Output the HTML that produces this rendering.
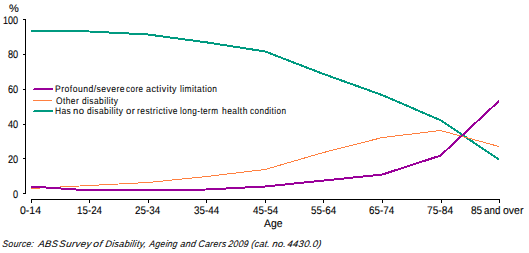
<!DOCTYPE html>
<html><head><meta charset="utf-8">
<style>
html,body{margin:0;padding:0;background:#fff;}
body{width:529px;height:253px;position:relative;overflow:hidden;font-family:"Liberation Sans",sans-serif;font-size:11px;color:#000;}
svg{position:absolute;left:0;top:0;}
.t{position:absolute;white-space:nowrap;line-height:1;transform-origin:0 0;-webkit-text-stroke:0.1px #000;text-rendering:geometricPrecision;}
</style></head><body>
<svg width="529" height="253" viewBox="0 0 529 253">
<g fill="#000" shape-rendering="crispEdges">
<rect x="25" y="19" width="1" height="175"/>
<rect x="23" y="19" width="2" height="1"/>
<rect x="23" y="54" width="2" height="1"/>
<rect x="23" y="89" width="2" height="1"/>
<rect x="23" y="124" width="2" height="1"/>
<rect x="23" y="158" width="2" height="1"/>
<rect x="23" y="193" width="2" height="1"/>
<rect x="31" y="199" width="469" height="1"/>
<rect x="31" y="199" width="1" height="4"/>
<rect x="89" y="199" width="1" height="4"/>
<rect x="148" y="199" width="1" height="4"/>
<rect x="206" y="199" width="1" height="4"/>
<rect x="265" y="199" width="1" height="4"/>
<rect x="323" y="199" width="1" height="4"/>
<rect x="382" y="199" width="1" height="4"/>
<rect x="441" y="199" width="1" height="4"/>
<rect x="499" y="199" width="1" height="4"/>
</g>
<g fill="none" stroke-linejoin="round" shape-rendering="crispEdges">
<polyline stroke="#009A80" stroke-width="2" points="31,31.2 89.5,31.5 148,34.5 206.5,42.35 265,51.45 323.5,74 382,95 440.5,120.2 499,159.5"/>
<polyline stroke="#FF8040" stroke-width="1" points="31,188.5 89.5,185.5 148,182.5 206.5,176.5 265,169.5 323.5,152.5 382,137.6 440.5,130.5 499,146.5"/>
<polyline stroke="#990099" stroke-width="2" points="31,186.5 89.5,190.45 148,190.1 206.5,189.5 265,186.5 323.5,180.55 382,174.6 440.5,155.6 499,101"/>
<rect x="34" y="88" width="19" height="1" fill="#990099" stroke="none"/>
<rect x="33" y="89" width="20" height="1" fill="#990099" stroke="none"/>
<rect x="33" y="100" width="19" height="1" fill="#FF8040" stroke="none"/>
<rect x="34" y="110" width="19" height="1" fill="#009A80" stroke="none"/>
<rect x="33" y="111" width="20" height="1" fill="#009A80" stroke="none"/>
</g>
</svg>
<div class="t" style="left:9.000px;top:4.000px;font-size:11px;">%</div>
<div class="t" style="left:3.176px;top:16.000px;font-size:11px;transform:scaleX(0.8235);">100</div>
<div class="t" style="left:8.000px;top:50.000px;font-size:11px;transform:scaleX(0.8333);">80</div>
<div class="t" style="left:8.000px;top:85.000px;font-size:11px;transform:scaleX(0.8333);">60</div>
<div class="t" style="left:8.000px;top:120.000px;font-size:11px;transform:scaleX(0.8333);">40</div>
<div class="t" style="left:8.000px;top:155.000px;font-size:11px;transform:scaleX(0.8333);">20</div>
<div class="t" style="left:13.000px;top:190.000px;font-size:11px;transform:scaleX(0.8333);">0</div>
<div class="t" style="left:20.000px;top:206.000px;font-size:11px;transform:scaleX(0.9545);">0-14</div>
<div class="t" style="left:77.111px;top:206.000px;font-size:11px;transform:scaleX(0.8889);">15-24</div>
<div class="t" style="left:135.000px;top:206.000px;font-size:11px;transform:scaleX(0.8929);">25-34</div>
<div class="t" style="left:194.000px;top:206.000px;font-size:11px;transform:scaleX(0.8929);">35-44</div>
<div class="t" style="left:253.000px;top:206.000px;font-size:11px;transform:scaleX(0.8929);">45-54</div>
<div class="t" style="left:311.000px;top:206.000px;font-size:11px;transform:scaleX(0.8929);">55-64</div>
<div class="t" style="left:369.000px;top:206.000px;font-size:11px;transform:scaleX(0.8929);">65-74</div>
<div class="t" style="left:427.074px;top:206.000px;font-size:11px;transform:scaleX(0.9259);">75-84</div>
<div class="t" style="left:471.000px;top:206.000px;font-size:11px;transform:scaleX(0.9167);">85</div>
<div class="t" style="left:484.000px;top:206.000px;font-size:11px;transform:scaleX(0.8889);">and</div>
<div class="t" style="left:503.000px;top:206.000px;font-size:11px;transform:scaleX(0.9545);">over</div>
<div class="t" style="left:264.000px;top:219.000px;font-size:11px;transform:scaleX(0.9474);">Age</div>
<div class="t" style="left:55.105px;top:85.000px;font-size:9.5px;-webkit-text-stroke:0.05px #000;letter-spacing:0.5px;transform:scaleX(0.9081);">Profound/severe</div>
<div class="t" style="left:126.000px;top:85.000px;font-size:9.5px;-webkit-text-stroke:0.05px #000;letter-spacing:0.5px;transform:scaleX(0.8500);">core</div>
<div class="t" style="left:146.000px;top:85.000px;font-size:9.5px;-webkit-text-stroke:0.05px #000;letter-spacing:0.5px;transform:scaleX(0.9394);">activity</div>
<div class="t" style="left:180.000px;top:85.000px;font-size:9.5px;-webkit-text-stroke:0.05px #000;letter-spacing:0.5px;transform:scaleX(0.8810);">limitation</div>
<div class="t" style="left:56.000px;top:97.000px;font-size:9.5px;-webkit-text-stroke:0.05px #000;letter-spacing:0.5px;transform:scaleX(0.8846);">Other</div>
<div class="t" style="left:82.000px;top:97.000px;font-size:9.5px;-webkit-text-stroke:0.05px #000;letter-spacing:0.5px;transform:scaleX(0.8780);">disability</div>
<div class="t" style="left:55.118px;top:107.000px;font-size:9.5px;-webkit-text-stroke:0.05px #000;letter-spacing:0.5px;transform:scaleX(0.8824);">Has</div>
<div class="t" style="left:73.000px;top:107.000px;font-size:9.5px;-webkit-text-stroke:0.05px #000;letter-spacing:0.5px;">no</div>
<div class="t" style="left:87.000px;top:107.000px;font-size:9.5px;-webkit-text-stroke:0.05px #000;letter-spacing:0.5px;transform:scaleX(0.8780);">disability</div>
<div class="t" style="left:126.000px;top:107.000px;font-size:9.5px;-webkit-text-stroke:0.05px #000;letter-spacing:0.5px;">or</div>
<div class="t" style="left:137.091px;top:107.000px;font-size:9.5px;-webkit-text-stroke:0.05px #000;letter-spacing:0.5px;transform:scaleX(0.8869);">restrictive</div>
<div class="t" style="left:180.000px;top:107.000px;font-size:9.5px;-webkit-text-stroke:0.05px #000;letter-spacing:0.5px;transform:scaleX(0.8636);">long-term</div>
<div class="t" style="left:222.000px;top:107.000px;font-size:9.5px;-webkit-text-stroke:0.05px #000;letter-spacing:0.5px;transform:scaleX(0.8929);">health</div>
<div class="t" style="left:250.000px;top:107.000px;font-size:9.5px;-webkit-text-stroke:0.05px #000;letter-spacing:0.5px;transform:scaleX(0.8571);">condition</div>
<div class="t" style="left:3.000px;top:240.000px;font-size:9.5px;font-style:italic;-webkit-text-stroke:0.05px #000;letter-spacing:0.3px;transform:scaleX(0.9118) skewX(-9deg);">Source:</div>
<div class="t" style="left:39.000px;top:240.000px;font-size:9.5px;font-style:italic;-webkit-text-stroke:0.05px #000;letter-spacing:0.3px;transform:skewX(-9deg);">ABS</div>
<div class="t" style="left:60.000px;top:240.000px;font-size:9.5px;font-style:italic;-webkit-text-stroke:0.05px #000;letter-spacing:0.3px;transform:scaleX(1.0332) skewX(-9deg);">Survey</div>
<div class="t" style="left:94.100px;top:240.000px;font-size:9.5px;font-style:italic;-webkit-text-stroke:0.05px #000;letter-spacing:0.3px;transform:scaleX(1.1000) skewX(-9deg);">of</div>
<div class="t" style="left:105.952px;top:240.000px;font-size:9.5px;font-style:italic;-webkit-text-stroke:0.05px #000;letter-spacing:0.3px;transform:scaleX(0.9524) skewX(-9deg);">Disability,</div>
<div class="t" style="left:149.906px;top:240.000px;font-size:9.5px;font-style:italic;-webkit-text-stroke:0.05px #000;letter-spacing:0.3px;transform:scaleX(0.9062) skewX(-9deg);">Ageing</div>
<div class="t" style="left:180.944px;top:240.000px;font-size:9.5px;font-style:italic;-webkit-text-stroke:0.05px #000;letter-spacing:0.3px;transform:scaleX(0.9444) skewX(-9deg);">and</div>
<div class="t" style="left:199.000px;top:240.000px;font-size:9.5px;font-style:italic;-webkit-text-stroke:0.05px #000;letter-spacing:0.3px;transform:scaleX(0.9310) skewX(-9deg);">Carers</div>
<div class="t" style="left:228.913px;top:240.000px;font-size:9.5px;font-style:italic;-webkit-text-stroke:0.05px #000;letter-spacing:0.3px;transform:scaleX(0.9130) skewX(-9deg);">2009</div>
<div class="t" style="left:251.947px;top:240.000px;font-size:9.5px;font-style:italic;-webkit-text-stroke:0.05px #000;letter-spacing:0.3px;transform:scaleX(0.9474) skewX(-9deg);">(cat.</div>
<div class="t" style="left:273.000px;top:240.000px;font-size:9.5px;font-style:italic;-webkit-text-stroke:0.05px #000;letter-spacing:0.3px;transform:skewX(-9deg);">no.</div>
<div class="t" style="left:288.000px;top:240.000px;font-size:9.5px;font-style:italic;-webkit-text-stroke:0.05px #000;letter-spacing:0.3px;transform:skewX(-9deg);">4430.0)</div>
</body></html>
